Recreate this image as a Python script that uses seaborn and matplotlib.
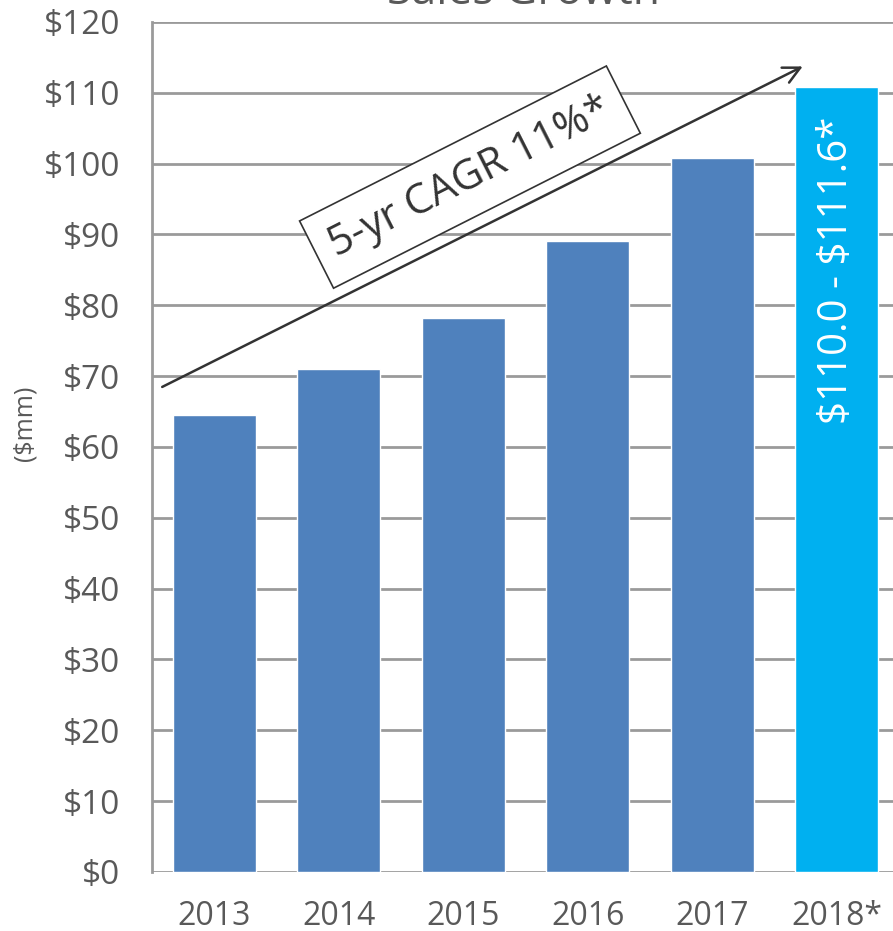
import pandas as pd
import seaborn as sns
import matplotlib.pyplot as plt

years = ['2013', '2014', '2015', '2016', '2017', '2018*']
sales = [64.5, 71.0, 78.2, 89.1, 100.8, 110.8]
bar_colors = ['#4F81BD', '#4F81BD', '#4F81BD', '#4F81BD', '#4F81BD', '#00B0F0']
y_ticks = list(range(0, 121, 10))
y_labels = ['$' + str(v) for v in y_ticks]

df = pd.DataFrame({'year': years, 'sales': sales})

sns.set_style('white')
plt.rcParams['font.family'] = ['Open Sans', 'DejaVu Sans']
text_gray = '#595959'
grid_gray = '#9a9a9a'

fig = plt.figure(figsize=(8.93, 9.31), dpi=100)
ax = fig.add_axes([0.1702, 0.0634, 0.8365, 0.913])

sns.barplot(data=df, x='year', y='sales', hue='year', palette=bar_colors,
            width=0.67, saturation=1, legend=False, ax=ax, zorder=3)

ax.set_ylim(0, 120)
ax.set_xlim(-0.5, 5.5)
ax.set_yticks(y_ticks)
ax.set_yticklabels(y_labels)
ax.yaxis.grid(True, color=grid_gray, linewidth=2, zorder=0)
ax.set_axisbelow(True)

# x ticks sit between the bars
ax.set_xticks([i - 0.5 for i in range(7)], minor=True)
ax.tick_params(axis='x', which='minor', length=8, width=1.5, color=grid_gray, direction='out')
ax.tick_params(axis='x', which='major', length=0, labelsize=23, labelcolor=text_gray, pad=20)
ax.tick_params(axis='y', length=8, width=1.5, color=grid_gray, direction='out',
               labelsize=24, labelcolor=text_gray, pad=15)

for s in ['top', 'right', 'bottom']:
    ax.spines[s].set_visible(False)
ax.spines['left'].set_color(grid_gray)
ax.spines['left'].set_linewidth(2)

ax.set_xlabel('')
ax.set_ylabel('($mm)', fontsize=18, color=text_gray)
ax.yaxis.set_label_coords(-0.153, 0.528)

# CAGR arrow and label
ax.annotate('', xy=(4.747, 113.9), xytext=(-0.438, 68.3),
            arrowprops=dict(arrowstyle='->', color='#333333', lw=1.8,
                            mutation_scale=30), zorder=5)
ax.text(2.054, 98.1, '5-yr CAGR 11%*', rotation=26.8, rotation_mode='anchor',
        ha='center', va='center', fontsize=30, color='#333333', zorder=6,
        bbox=dict(boxstyle='square,pad=0.4', fc='white', ec='#333333', lw=1.2))

ax.text(5, 85.0, '\\$110.0 - \\$111.6*', rotation=90, ha='center', va='center',
        fontsize=29, color='white', zorder=6)

fig.text(0.5857, 0.9957, 'Sales Growth', ha='center', va='baseline',
         fontsize=32, color=text_gray)

fig.savefig('out.png', dpi=100)
